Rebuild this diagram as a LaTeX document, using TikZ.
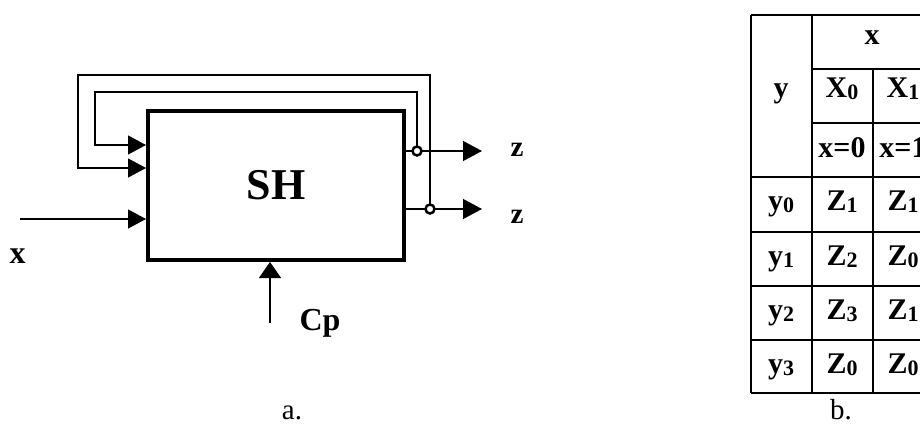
\documentclass[tikz,border=0pt]{standalone}
\usepackage{fontspec}
\setmainfont{Liberation Serif}
\usetikzlibrary{arrows.meta}
\newcommand{\lowidx}[1]{\raisebox{-2pt}{\fontsize{22}{22}\selectfont #1}}
\begin{document}
\begin{tikzpicture}[x=1pt,y=-1pt,
  thinline/.style={line width=1.2pt},
  inarrow/.style={thinline,-{Triangle[length=18pt,width=19pt]}},
  lbl/.style={anchor=base,inner sep=0pt,font=\fontsize{29}{29}\selectfont\bfseries},
  biglbl/.style={anchor=base,inner sep=0pt,font=\fontsize{32}{32}\selectfont\bfseries},
  cell/.style={anchor=base,inner sep=0pt,font=\fontsize{30}{30}\selectfont\bfseries},
  captext/.style={anchor=base,inner sep=0pt,font=\fontsize{29}{29}\selectfont},
  tablerule/.style={line width=2pt},
  joint/.style={circle,draw,line width=2.5pt,inner sep=0pt,minimum size=9pt,fill=white}]
\useasboundingbox (0,0) rectangle (920,425);
\clip (0,0) rectangle (920,425);
% block
\node[draw,line width=4pt,minimum width=256pt,minimum height=149pt,inner sep=0pt,
      font=\fontsize{44}{44}\selectfont\bfseries] (sh) at (276,185.5) {SH};
\coordinate (in1) at (sh.west |- {(0,145)});
\coordinate (in2) at (sh.west |- {(0,168)});
\coordinate (in3) at (sh.west |- {(0,219)});
% output joints
\coordinate (j1) at (417,151);
\coordinate (j2) at (430,209);
\coordinate (o1) at (482,151);
\coordinate (o2) at (482,209);
\draw[thinline] (sh.east |- j1) -- (j1);
\draw[thinline] (sh.east |- j2) -- (j2);
\draw[inarrow,-{Triangle[length=19pt,width=20pt]}] (j1) -- (o1);
\draw[inarrow,-{Triangle[length=19pt,width=20pt]}] (j2) -- (o2);
% feedback
\draw[inarrow] (j1) |- (95,92) |- (in1);
\draw[inarrow] (j2) |- (78,75) |- (in2);
\node[joint] (c1) at (j1) {};
\node[joint] (c2) at (j2) {};
\node[lbl] (z1) at (517,156) {z};
\node[lbl] (z2) at (517,223) {z};
% input x
\coordinate (xs) at (20,219);
\draw[inarrow] (xs) -- (in3);
\node[biglbl] (xl) at (17.5,263) {x};
% clock
\coordinate (cs) at (270,323);
\draw[thinline,-{Triangle[length=16pt,width=22pt]}] (cs) -- (sh.south -| cs);
\node[biglbl] (cp) at (320,330) {Cp};
\node[captext] (ca) at (292,419) {a.};
\node[captext] (cb) at (841,419) {b.};
% table
\draw[tablerule] (751,15) -- (751,393);
\draw[tablerule] (812,15) -- (812,393);
\draw[tablerule] (873,69) -- (873,393);
\draw[tablerule] (934,15) -- (934,393);
\draw[tablerule] (751,15) -- (934,15);
\draw[tablerule] (812,69) -- (934,69);
\draw[tablerule] (812,123) -- (934,123);
\foreach \yy in {177,232,286,340,393} \draw[tablerule] (751,\yy) -- (934,\yy);
\node[cell] (hx) at (872,45) {x};
\node[cell] (hy) at (781,98) {y};
\node[cell] (hX0) at (842,98) {X\lowidx{0}};
\node[cell] (hX1) at (903,98) {X\lowidx{1}};
\node[cell] (hx0) at (842,157) {x=0};
\node[cell] (hx1) at (903,157) {x=1};
\node[cell] (r0) at (781,210) {y\lowidx{0}};
\node[cell] (r1) at (781,265) {y\lowidx{1}};
\node[cell] (r2) at (781,319) {y\lowidx{2}};
\node[cell] (r3) at (781,373) {y\lowidx{3}};
\node[cell] (a0) at (842,210) {Z\lowidx{1}};
\node[cell] (b0) at (903,210) {Z\lowidx{1}};
\node[cell] (a1) at (842,265) {Z\lowidx{2}};
\node[cell] (b1) at (903,265) {Z\lowidx{0}};
\node[cell] (a2) at (842,319) {Z\lowidx{3}};
\node[cell] (b2) at (903,319) {Z\lowidx{1}};
\node[cell] (a3) at (842,373) {Z\lowidx{0}};
\node[cell] (b3) at (903,373) {Z\lowidx{0}};
\end{tikzpicture}
\end{document}
